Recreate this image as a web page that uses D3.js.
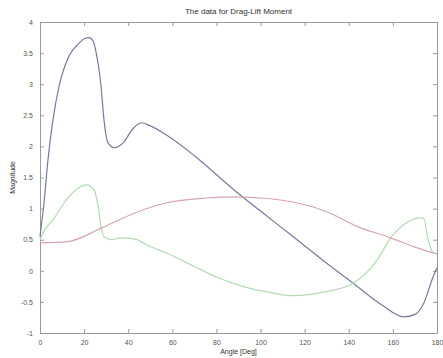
<!DOCTYPE html>
<html>
<head>
<meta charset="utf-8">
<script src="https://cdn.jsdelivr.net/npm/d3@7"></script>
<style>
    body { margin: 0; background: #fff; }
    svg { display: block; font-family: "Liberation Sans", Arial, sans-serif; }
    .axis path, .axis line { stroke: #9a9a9a; }
    .axis text { fill: #555; font-size: 7px; }
</style>
</head>
<body>
<svg id="chart" width="443" height="358"></svg>
<script>
// Values
let blueDeg = [0, 1.8, 3.6, 5.9, 8.6, 13, 17.7, 20, 22.3, 24, 25.5, 27.7, 29, 30.8, 33.6, 38, 42, 46, 50, 57, 70, 88, 100, 114, 130, 142, 155, 165, 170, 174, 178, 180];
let blueVal = [0.55, 1.09, 1.78, 2.43, 2.96, 3.44, 3.66, 3.73, 3.75, 3.7, 3.5, 2.96, 2.43, 2.06, 1.98, 2.07, 2.28, 2.38, 2.33, 2.19, 1.85, 1.3, 0.96, 0.57, 0.12, -0.2, -0.55, -0.74, -0.7, -0.52, -0.12, 0.05];

let greenDeg = [0, 2, 5.9, 13, 17, 21, 24.5, 26.4, 27.7, 29, 32, 37, 43, 50, 57, 70, 80, 92, 103, 115, 129, 142, 153, 159, 167, 172, 174, 176, 178, 180];
let greenVal = [0.5, 0.65, 0.82, 1.19, 1.32, 1.38, 1.3, 1.03, 0.7, 0.55, 0.5, 0.53, 0.51, 0.39, 0.29, 0.07, -0.1, -0.25, -0.34, -0.4, -0.34, -0.2, 0.18, 0.53, 0.79, 0.85, 0.84, 0.5, 0.3, 0.27];

let redDeg = [0, 12.7, 28, 43, 57, 75, 88, 100, 114, 130, 144, 159, 170, 177, 180];
let redVal = [0.45, 0.47, 0.69, 0.93, 1.09, 1.17, 1.19, 1.17, 1.11, 0.95, 0.71, 0.53, 0.38, 0.3, 0.27];

let xTicks = [0, 20, 40, 60, 80, 100, 120, 140, 160, 180];
let yTicks = [-1, -0.5, 0, 0.5, 1, 1.5, 2, 2.5, 3, 3.5, 4];

let series = [
    {deg: blueDeg, val: blueVal, color: "#777c9a"},
    {deg: greenDeg, val: greenVal, color: "#b3dab3"},
    {deg: redDeg, val: redVal, color: "#d4a6b0"}
];

// Plot box
let boxLeft = 40, boxRight = 437, boxTop = 22, boxBottom = 333;

let svg = d3.select("#chart");

let x = d3.scaleLinear().domain([0, 180]).range([boxLeft, boxRight]);
let y = d3.scaleLinear().domain([-1, 4]).range([boxBottom, boxTop]);

// Axes, ticks pointing inward like matlab
svg.append("g")
    .attr("class", "axis")
    .attr("transform", "translate(0," + boxBottom + ")")
    .call(d3.axisBottom(x).tickValues(xTicks).tickSizeInner(-4).tickSizeOuter(0).tickPadding(7).tickFormat(d => String(d)));

svg.append("g")
    .attr("class", "axis")
    .attr("transform", "translate(0," + boxTop + ")")
    .call(d3.axisTop(x).tickValues(xTicks).tickSizeInner(-4).tickSizeOuter(0).tickFormat(""));

svg.append("g")
    .attr("class", "axis")
    .attr("transform", "translate(" + boxLeft + ",0)")
    .call(d3.axisLeft(y).tickValues(yTicks).tickSizeInner(-4).tickSizeOuter(0).tickPadding(7).tickFormat(d => String(d)));

svg.append("g")
    .attr("class", "axis")
    .attr("transform", "translate(" + boxRight + ",0)")
    .call(d3.axisRight(y).tickValues(yTicks).tickSizeInner(-4).tickSizeOuter(0).tickFormat(""));

// Lines
let line = d3.line()
    .x(d => x(d[0]))
    .y(d => y(d[1]))
    .curve(d3.curveMonotoneX);

series.forEach(s => {
    let pts = s.deg.map((d, i) => [d, s.val[i]]);
    svg.append("path")
        .datum(pts)
        .attr("d", line)
        .attr("fill", "none")
        .attr("stroke", s.color)
        .attr("stroke-width", 1.2);
});

// Titles
svg.append("text")
    .attr("x", (boxLeft + boxRight) / 2)
    .attr("y", 14)
    .attr("text-anchor", "middle")
    .attr("font-size", 8)
    .attr("fill", "#333")
    .text("The data for Drag-Lift Moment");

svg.append("text")
    .attr("x", (boxLeft + boxRight) / 2)
    .attr("y", 354)
    .attr("text-anchor", "middle")
    .attr("font-size", 7)
    .attr("fill", "#333")
    .text("Angle [Deg]");

svg.append("text")
    .attr("transform", "translate(15," + (boxTop + boxBottom) / 2 + ") rotate(-90)")
    .attr("text-anchor", "middle")
    .attr("font-size", 7)
    .attr("fill", "#333")
    .text("Magnitude");
</script>
</body>
</html>
